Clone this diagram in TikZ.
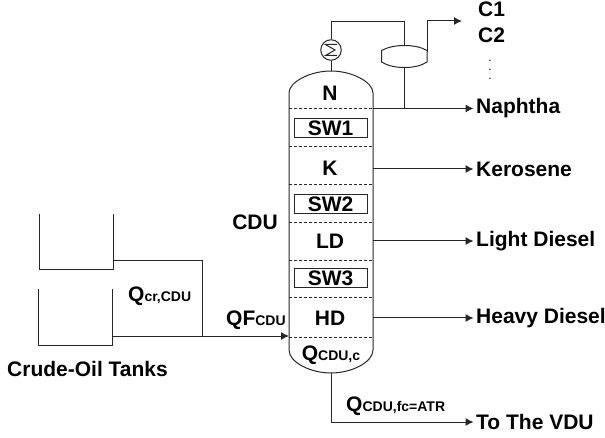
\documentclass[tikz,border=0pt]{standalone}
\usepackage{fontspec}
\setmainfont{Liberation Sans}
\usetikzlibrary{arrows.meta}
\tikzset{
  lbl/.style={inner sep=0pt,font=\bfseries\fontsize{21}{24}\selectfont,anchor=west},
  ctr/.style={inner sep=0pt,font=\bfseries\fontsize{21}{24}\selectfont,anchor=center},
  ln/.style={draw=black!85,line width=1pt},
  arr/.style={ln,-{Latex[length=8pt,width=8pt]}},
  parr/.style={arr,shorten >=2.5pt},
  dsh/.style={draw=black!85,line width=0.8pt,dash pattern=on 3pt off 2pt},
  swbox/.style={draw=black!85,line width=1pt,minimum width=73pt,minimum height=19.5pt,inner sep=0pt,font=\bfseries\fontsize{21}{24}\selectfont}
}
\newcommand{\sbs}[1]{{\fontsize{14}{16}\selectfont #1}}
\begin{document}
\begin{tikzpicture}[x=1pt,y=-1pt]
\useasboundingbox (0,0) rectangle (605,438);
% column
\draw[ln] (289,93) .. controls (289,82) and (310,71) .. (331,71) .. controls (352,71) and (373,82) .. (373,93)
  -- (373,350) .. controls (373,362) and (352,373) .. (331,373) .. controls (310,373) and (289,362) .. (289,350) -- cycle;
\foreach \y in {108.5,146.5,184,222,260,297,337}
  \draw[dsh] (289,\y) -- (373,\y);
\node[swbox] (sw1) at (330.5,128) {SW1};
\node[swbox] (sw2) at (330.5,204) {SW2};
\node[swbox] (sw3) at (330.5,278) {SW3};
\node[ctr] (n) at (330,93) {N};
\node[ctr] (k) at (330,168) {K};
\node[ctr] (ld) at (330,241) {LD};
\node[ctr] (hd) at (330,318) {HD};
\node[ctr] (qc) at (331,355) {Q\sbs{CDU,c}};
\node[ctr] (cdu) at (255,222) {CDU};
% condenser and drum
\node[draw=black!85,line width=1pt,circle,minimum size=20.5pt,inner sep=0pt] (cond) at (331,50) {};
\draw[ln] (337,44.5) -- (325.5,44.5) -- (335,50) -- (325.5,55.5) -- (337,55.5);
\coordinate (coltop) at (331,71);
\coordinate (r1) at (331,21.5);
\coordinate (r2) at (404.5,21.5);
\draw[ln] (coltop) -- (cond);
\draw[ln] (cond) -- (r1) -- (r2) -- (404.5,45.5);
\draw[ln] (381.5,50.5) .. controls (388,47) and (396,45.5) .. (404.5,45.5) .. controls (413,45.5) and (421,47) .. (427,50.5)
  -- (427,62) .. controls (421,66) and (413,67.5) .. (404.5,67.5) .. controls (396,67.5) and (388,66) .. (381.5,62) -- cycle;
\coordinate (drumout) at (427,52);
\coordinate (drumup) at (427,21);
\coordinate (c1end) at (462,21);
\draw[arr] (drumout) -- (drumup) -- (c1end);
\node[lbl] (c1) at (478,9) {C1};
\node[lbl] (c2) at (478,35) {C2};
\node[inner sep=0pt,font=\fontsize{12}{12}\selectfont,rotate=90] (dots) at (490,70) {.\hspace{6pt}.\hspace{6pt}.};
% products
\coordinate (dr) at (404.5,67.5);
\coordinate (nj) at (404.5,108.5);
\draw[ln] (dr) -- (nj);
\node[lbl] (naph) at (476,108.5) {Naphtha};
\node[lbl] (ker) at (476,169) {Kerosene};
\node[lbl] (ldo) at (476,241) {Light Diesel};
\node[lbl] (hdo) at (476,318) {Heavy Diesel};
\node[lbl] (vdu) at (476,422) {To The VDU};
\draw[parr] (373,108.5) -- (naph.west);
\draw[parr] (373,169) -- (ker.west);
\draw[parr] (373,241) -- (ldo.west);
\draw[parr] (373,318) -- (hdo.west);
\coordinate (bot) at (331,373);
\coordinate (botc) at (331,422);
\draw[parr] (bot) -- (botc) -- (vdu.west);
\node[lbl] (qatr) at (346,406) {Q\sbs{CDU,fc=ATR}};
% tanks
\draw[ln] (39,214) -- (39,270) -- (113,270) -- (113,214);
\draw[ln] (38,289) -- (38,345) -- (112,345) -- (112,289);
\coordinate (t1) at (113,261);
\coordinate (t1a) at (202,261);
\coordinate (t1b) at (202,336);
\coordinate (t2) at (112,336);
\coordinate (feed) at (289,336);
\draw[ln] (t1) -- (t1a) -- (t1b);
\draw[arr] (t2) -- (feed);
\node[lbl] (qcr) at (128,296) {Q\sbs{cr,CDU}};
\node[lbl] (qf) at (226,320) {QF\sbs{CDU}};
\node[lbl] (tanks) at (7,369) {Crude-Oil Tanks};
\end{tikzpicture}
\end{document}
